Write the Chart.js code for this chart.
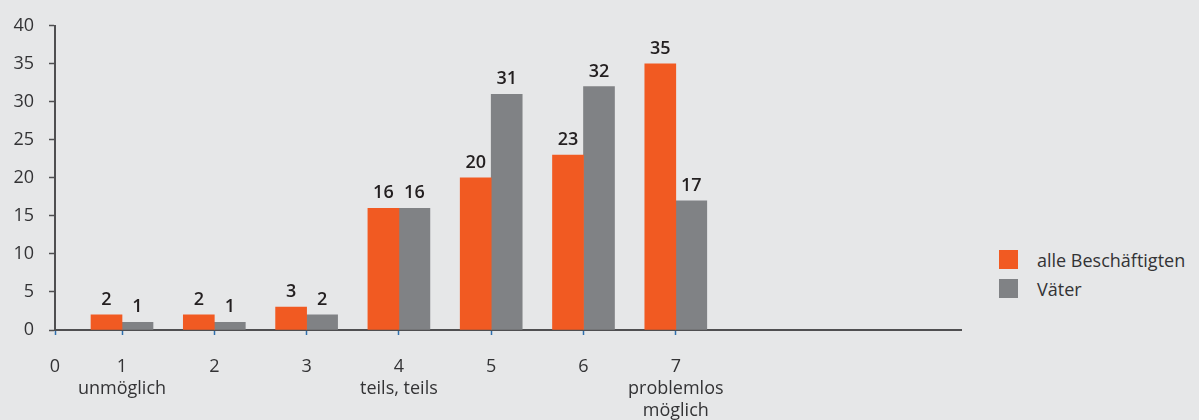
<!DOCTYPE html>
<html lang="de">
<head>
<meta charset="utf-8">
<title>Vereinbarkeit – alle Beschäftigten und Väter</title>
<script src="https://cdn.jsdelivr.net/npm/chart.js@4/dist/chart.umd.min.js"></script>
<style>
    html, body {
        margin: 0;
        padding: 0;
        background: #e6e7e8;
        font-family: "Open Sans", sans-serif;
    }
    .chart-wrap {
        position: absolute;
        left: 0;
        top: 0;
        width: 975px;
        height: 420px;
    }
    .legend {
        position: absolute;
        left: 999px;
        top: 250px;
        margin: 0;
        padding: 0;
        list-style: none;
        color: #333335;
        font-size: 18px;
    }
    .legend li {
        display: flex;
        align-items: center;
        height: 19px;
        margin-bottom: 10px;
    }
    .legend .swatch {
        width: 19px;
        height: 19px;
        margin-right: 19px;
    }
</style>
</head>
<body>
<div class="chart-wrap"><canvas id="chart"></canvas></div>
<ul class="legend" id="legend"></ul>
<script>
// Antwortskala 1 (unmöglich) bis 7 (problemlos möglich), Angaben in Prozent
const categories = [1, 2, 3, 4, 5, 6, 7];
const alleBeschaeftigten = [2, 2, 3, 16, 20, 23, 35];
const vaeter = [1, 1, 2, 16, 31, 32, 17];

const xTickValues = [0, 1, 2, 3, 4, 5, 6, 7];
const xTickLabels = ['0', '1', '2', '3', '4', '5', '6', '7'];
const xSubLabels = [[], ['unmöglich'], [], [], ['teils, teils'], [], [], ['problemlos', 'möglich']];
const yTicks = [0, 5, 10, 15, 20, 25, 30, 35, 40];

const colors = {
    orange: '#f15a22',
    grey: '#808285',
    text: '#333335',
    axis: '#4f4f51',
    tick: '#2f6fad'
};

const FONT = '"Open Sans", sans-serif';

// x-Achse beginnt nicht bei 0, sondern etwas links der ersten Kategorie
const X_MIN = 0.274;
const X_MAX = 10.09;

const valueLabels = {
    id: 'valueLabels',
    afterDatasetsDraw(chart) {
        const ctx = chart.ctx;
        ctx.save();
        ctx.font = `600 18px ${FONT}`;
        ctx.fillStyle = '#231f20';
        ctx.textAlign = 'center';
        ctx.textBaseline = 'alphabetic';
        chart.data.datasets.forEach((dataset, i) => {
            chart.getDatasetMeta(i).data.forEach((bar, j) => {
                ctx.fillText(String(dataset.data[j]), bar.x, bar.y - 10);
            });
        });
        ctx.restore();
    }
};

const chart = new Chart(document.getElementById('chart'), {
    type: 'bar',
    data: {
        labels: categories,
        datasets: [
            {
                label: 'alle Beschäftigten',
                data: alleBeschaeftigten,
                backgroundColor: colors.orange,
                barThickness: 31
            },
            {
                label: 'Väter',
                data: vaeter,
                backgroundColor: colors.grey,
                barThickness: 31
            }
        ]
    },
    options: {
        responsive: true,
        maintainAspectRatio: false,
        animation: false,
        layout: {
            padding: { top: 6, left: 13, right: 14, bottom: 0 }
        },
        plugins: {
            legend: { display: false },
            tooltip: { enabled: false }
        },
        scales: {
            x: {
                type: 'linear',
                min: X_MIN,
                max: X_MAX,
                offset: false,
                afterBuildTicks: axis => {
                    axis.ticks = xTickValues.map(v => ({ value: v === 0 ? X_MIN : v }));
                },
                afterFit: axis => {
                    axis.height = 90;
                },
                border: { color: colors.axis, width: 2 },
                grid: {
                    offset: false,
                    drawOnChartArea: false,
                    drawTicks: true,
                    tickLength: 5,
                    tickColor: colors.tick,
                    tickWidth: 1.5
                },
                ticks: {
                    autoSkip: false,
                    maxRotation: 0,
                    padding: 21,
                    color: colors.text,
                    font: { family: FONT, size: 18, lineHeight: '22px' },
                    callback: (value, index) => [xTickLabels[index], ...xSubLabels[index]]
                }
            },
            y: {
                min: 0,
                max: 40,
                afterBuildTicks: axis => {
                    axis.ticks = yTicks.map(v => ({ value: v }));
                },
                afterFit: axis => {
                    axis.width = 42;
                },
                border: { color: colors.axis, width: 2 },
                grid: {
                    drawOnChartArea: false,
                    drawTicks: true,
                    tickLength: 6,
                    tickColor: colors.axis,
                    tickWidth: 1.5
                },
                ticks: {
                    padding: 15,
                    color: colors.text,
                    font: { family: FONT, size: 18 }
                }
            }
        }
    },
    plugins: [valueLabels]
});

function renderLegend() {
    const legend = document.getElementById('legend');
    legend.innerHTML = chart.data.datasets
        .map(dataset => `
            <li><span class="swatch" style="background:${dataset.backgroundColor}"></span>${dataset.label}</li>
        `)
        .join('');
}

renderLegend();
</script>
</body>
</html>
